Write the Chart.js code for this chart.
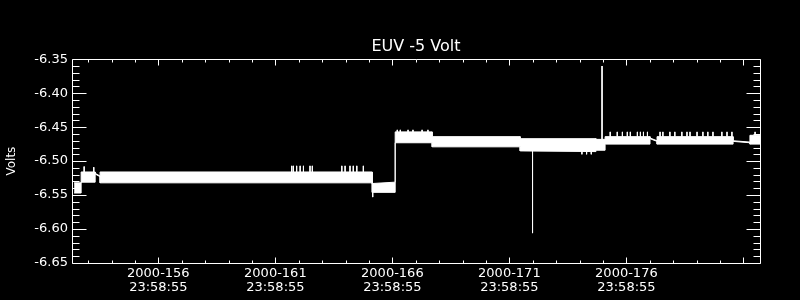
<!DOCTYPE html>
<html>
<head>
<meta charset="utf-8">
<script src="https://cdn.jsdelivr.net/npm/chart.js@4/dist/chart.umd.min.js"></script>
<style>
	html, body { margin: 0; padding: 0; background: #000; }
	#box { width: 800px; height: 300px; }
</style>
</head>
<body>
<div id="box"><canvas id="graficoEuv" width="800" height="300"></canvas></div>
<script>
// Envelope of the dense data band (day of year 2000, upper / lower volts)
var bandDays = [152.40, 152.70, 152.70, 153.30, 153.30, 153.51, 153.51, 165.14, 165.14, 166.12, 166.12, 167.70, 167.70, 171.46, 171.46, 174.70, 174.70, 175.09, 175.09, 177.01, 177.01, 177.31, 177.31, 180.56, 180.56, 181.28, 181.28, 181.71];
var bandHigh = [-6.532, -6.532, -6.516, -6.516, -6.518, -6.522, -6.516, -6.516, -6.533, -6.531, -6.457, -6.457, -6.464, -6.464, -6.467, -6.467, -6.468, -6.468, -6.464, -6.464, -6.466, -6.470, -6.464, -6.464, -6.470, -6.472, -6.462, -6.462];
var bandLow = [-6.547, -6.547, -6.531, -6.531, -6.519, -6.523, -6.532, -6.532, -6.546, -6.546, -6.473, -6.473, -6.479, -6.479, -6.485, -6.486, -6.484, -6.484, -6.475, -6.475, -6.467, -6.471, -6.475, -6.475, -6.471, -6.473, -6.475, -6.475];

// Single spikes sticking out of the band
var spikeDays = [171.99, 174.96,
	152.83, 153.24,
	161.70, 161.77, 161.91, 162.06, 162.20, 162.48, 162.58,
	163.84, 163.98, 164.19, 164.33, 164.48, 164.76,
	165.16, 166.21, 166.34, 166.67, 166.88, 167.27, 167.52,
	174.10, 174.30, 174.50,
	175.31, 175.61, 175.83, 176.04, 176.17, 176.47, 176.60, 176.73, 176.90,
	177.44, 177.56, 177.86, 178.07, 178.37, 178.59, 178.72, 179.02, 179.27, 179.48, 179.70, 180.08, 180.30, 180.51,
	181.50];
var spikeTop = [-6.478, -6.360,
	-6.508, -6.509,
	-6.507, -6.507, -6.507, -6.507, -6.507, -6.507, -6.507,
	-6.507, -6.507, -6.507, -6.507, -6.507, -6.507,
	-6.546, -6.454, -6.454, -6.454, -6.454, -6.454, -6.454,
	-6.486, -6.486, -6.486,
	-6.457, -6.457, -6.457, -6.457, -6.457, -6.457, -6.457, -6.457, -6.457,
	-6.457, -6.457, -6.457, -6.457, -6.457, -6.457, -6.457, -6.457, -6.457, -6.457, -6.457, -6.457, -6.457, -6.457,
	-6.457];
var spikeBottom = [-6.606, -6.468,
	-6.516, -6.516,
	-6.516, -6.516, -6.516, -6.516, -6.516, -6.516, -6.516,
	-6.516, -6.516, -6.516, -6.516, -6.516, -6.516,
	-6.553, -6.458, -6.458, -6.458, -6.458, -6.458, -6.458,
	-6.490, -6.490, -6.490,
	-6.464, -6.464, -6.464, -6.464, -6.464, -6.464, -6.464, -6.464, -6.464,
	-6.464, -6.464, -6.464, -6.464, -6.464, -6.464, -6.464, -6.464, -6.464, -6.464, -6.464, -6.464, -6.464, -6.464,
	-6.462];

// Axis labels
var xLabelDays = [156, 161, 166, 171, 176];
var xLabelTime = "23:58:55";
var yTickValues = [-6.65, -6.60, -6.55, -6.50, -6.45, -6.40, -6.35];

var fonte = "'DejaVu Sans', sans-serif";

var pontosAlto = bandDays.map((d, i) => ({ x: d, y: bandHigh[i] }));
var pontosBaixo = bandDays.map((d, i) => ({ x: d, y: bandLow[i] }));
var pontosSpike = [];
for (var i = 0; i < spikeDays.length; i++) {
	pontosSpike.push({ x: spikeDays[i], y: spikeTop[i] });
	pontosSpike.push({ x: spikeDays[i], y: spikeBottom[i] });
	pontosSpike.push({ x: spikeDays[i], y: null });
}

// IDL style frame with inward ticks on all four sides
var molduraPlugin = {
	id: "moldura",
	afterDatasetsDraw(chart) {
		var ctx = chart.ctx;
		var a = chart.chartArea;
		var x = chart.scales.x;
		var y = chart.scales.y;
		var l = Math.round(a.left) + 0.5, r = Math.round(a.right) + 0.5;
		var t = Math.round(a.top) + 0.5, b = Math.round(a.bottom) + 0.5;
		ctx.save();
		ctx.strokeStyle = "#fff";
		ctx.lineWidth = 1;
		ctx.beginPath();
		ctx.rect(l, t, r - l, b - t);
		for (var d = Math.ceil(x.min); d <= x.max; d++) {
			var px = Math.round(x.getPixelForValue(d)) + 0.5;
			var len = (d - 156) % 5 === 0 ? 6 : 3;
			ctx.moveTo(px, b); ctx.lineTo(px, b - len);
			ctx.moveTo(px, t); ctx.lineTo(px, t + len);
		}
		for (var k = 0; k <= 30; k++) {
			var py = Math.round(y.getPixelForValue(-6.65 + k * 0.01)) + 0.5;
			var lenY = k % 5 === 0 ? 14 : 7;
			ctx.moveTo(l, py); ctx.lineTo(l + lenY, py);
			ctx.moveTo(r, py); ctx.lineTo(r - lenY, py);
		}
		ctx.stroke();
		ctx.restore();
	},
};

var grafico = new Chart(document.getElementById("graficoEuv"), {
	type: "line",
	data: {
		datasets: [
			{ data: pontosAlto, borderColor: "#fff", borderWidth: 1, pointRadius: 0, fill: false },
			{ data: pontosBaixo, borderColor: "#fff", borderWidth: 1, pointRadius: 0, fill: "-1", backgroundColor: "#fff" },
			{ data: pontosSpike, borderColor: "#fff", borderWidth: 1, pointRadius: 0, fill: false, spanGaps: false },
		],
	},
	options: {
		responsive: false,
		animation: false,
		// padding esquerdo 32 deixa o titulo centrado sobre a area do grafico
		layout: { padding: { left: 32, right: 0, top: 0, bottom: 0 } },
		plugins: {
			legend: { display: false },
			tooltip: { enabled: false },
			title: {
				display: true,
				text: "EUV -5 Volt",
				color: "#fff",
				font: { family: fonte, size: 16, weight: "normal" },
				padding: { top: 37, bottom: 3 },
			},
		},
		scales: {
			x: {
				type: "linear",
				min: 152.31,
				max: 181.71,
				grid: { display: false, drawTicks: false },
				border: { display: false },
				afterBuildTicks: (s) => { s.ticks = xLabelDays.map((v) => ({ value: v })); },
				afterFit: (s) => { s.height = 37; },
				ticks: {
					color: "#fff",
					autoSkip: false,
					maxRotation: 0,
					padding: 3,
					font: { family: fonte, size: 13, lineHeight: 1.12 },
					callback: (v) => ["2000-" + v, xLabelTime],
				},
			},
			y: {
				min: -6.65,
				max: -6.35,
				grid: { display: false, drawTicks: false },
				border: { display: false },
				afterBuildTicks: (s) => { s.ticks = yTickValues.map((v) => ({ value: v })); },
				afterFit: (s) => { s.width = 40; },
				ticks: {
					color: "#fff",
					padding: 4,
					font: { family: fonte, size: 13 },
					callback: (v) => Number(v).toFixed(2),
				},
				title: {
					display: true,
					text: "Volts",
					color: "#fff",
					font: { family: fonte, size: 12 },
					padding: { top: -27, bottom: 0 },
				},
			},
			// eixo vazio so para reservar a margem direita
			margem: {
				position: "right",
				min: 0,
				max: 1,
				grid: { display: false, drawTicks: false },
				border: { display: false },
				ticks: { display: false },
				afterFit: (s) => { s.width = 40; },
			},
		},
	},
	plugins: [molduraPlugin],
});
</script>
</body>
</html>
